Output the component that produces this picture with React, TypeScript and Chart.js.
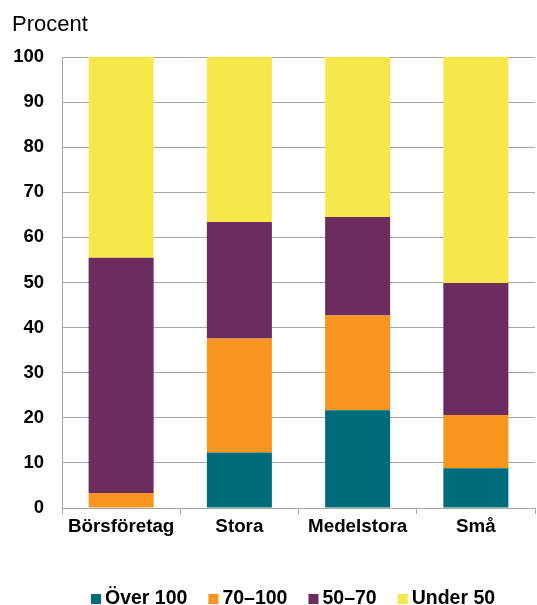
import React, { useEffect, useRef } from "react";
import { Chart, registerables } from "chart.js";

Chart.register(...registerables);

const categories = ["Börsföretag", "Stora", "Medelstora", "Små"];
const over100 = [0, 12.3, 21.7, 8.8];
const from70to100 = [3.3, 25.3, 21.0, 11.8];
const from50to70 = [52.2, 25.8, 21.8, 29.3];
const under50 = [44.5, 36.6, 35.5, 50.1];
const seriesNames = ["Över 100", "70–100", "50–70", "Under 50"];
const colors = ["#006B7B", "#F7951F", "#6C2C60", "#F6E84A"];
const yTicks = [0, 10, 20, 30, 40, 50, 60, 70, 80, 90, 100];
const unitLabel = "Procent";

const FONT = "'Liberation Sans', Arial, sans-serif";

export default function App() {
  const ref = useRef<HTMLCanvasElement | null>(null);
  useEffect(() => {
    document.body.style.margin = "0";
    const canvas = ref.current!;
    const overlay = {
      id: "overlay",
      afterDraw(chart: any) {
        const ctx = chart.ctx;
        ctx.save();
        ctx.fillStyle = "#000";
        ctx.font = `22px ${FONT}`;
        ctx.textBaseline = "alphabetic";
        ctx.textAlign = "left";
        ctx.fillText(unitLabel, 12, 31);
        ctx.font = `bold 19.5px ${FONT}`;
        let x = 91;
        chart.data.datasets.forEach((ds: any) => {
          ctx.fillStyle = ds.backgroundColor;
          ctx.fillRect(x, 594, 10, 10);
          ctx.fillStyle = "#000";
          ctx.fillText(ds.label, x + 14, 604);
          x += 14 + ctx.measureText(ds.label).width + 21;
        });
        ctx.restore();
      },
    };
    const data = [over100, from70to100, from50to70, under50];
    const chart = new Chart(canvas, {
      type: "bar",
      data: {
        labels: categories,
        datasets: data.map((d, i) => ({
          label: seriesNames[i],
          data: d,
          backgroundColor: colors[i],
          borderWidth: 0,
          barPercentage: 0.55,
          categoryPercentage: 1,
        })),
      },
      options: {
        responsive: false,
        animation: false,
        layout: { padding: { top: 57, right: 2, bottom: 57, left: 0 } },
        plugins: { legend: { display: false }, tooltip: { enabled: false } },
        scales: {
          x: {
            stacked: true,
            afterFit: (s: any) => { s.height = 40; },
            grid: { drawOnChartArea: false, drawTicks: true, tickLength: 6, color: "#A6A6A6", offset: true },
            border: { color: "#A6A6A6" },
            ticks: { color: "#000", padding: 2, font: { family: FONT, size: 18.8, weight: "bold" } },
          },
          y: {
            stacked: true,
            min: 0,
            max: 100,
            afterFit: (s: any) => { s.width = 62; },
            afterBuildTicks: (s: any) => { s.ticks = yTicks.map((v) => ({ value: v })); },
            grid: { color: "#A6A6A6", drawTicks: false },
            border: { color: "#A6A6A6" },
            ticks: { color: "#000", padding: 18, font: { family: FONT, size: 18.5, weight: "bold" } },
          },
        },
      },
      plugins: [overlay],
    });
    return () => chart.destroy();
  }, []);
  return (
    <div style={{ width: 537, height: 605, background: "#fff" }}>
      <canvas ref={ref} width={537} height={605} style={{ width: 537, height: 605, display: "block" }} />
    </div>
  );
}
